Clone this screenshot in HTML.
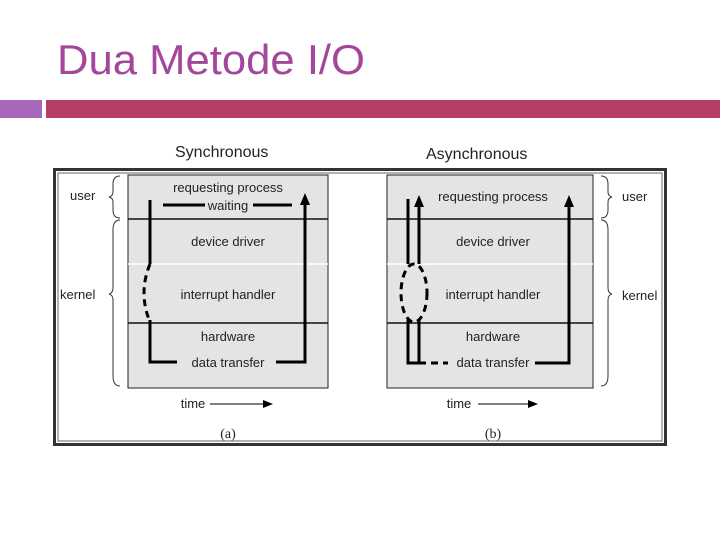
<!DOCTYPE html>
<html><head><meta charset="utf-8"><style>
body{margin:0;width:720px;height:540px;background:#fff;overflow:hidden;font-family:"Liberation Sans",sans-serif}
</style></head><body>
<svg width="720" height="540" viewBox="0 0 720 540" xmlns="http://www.w3.org/2000/svg" font-family="Liberation Sans, sans-serif">
<text x="57" y="74" font-size="42" fill="#a3479c" textLength="308" lengthAdjust="spacingAndGlyphs">Dua Metode I/O</text>
<rect x="0" y="100" width="42" height="18" fill="#a866bb"/>
<rect x="46" y="100" width="674" height="18" fill="#b63d66"/>
<text x="175" y="157" font-size="16" fill="#222">Synchronous</text>
<text x="426" y="159" font-size="16" fill="#222">Asynchronous</text>
<rect x="54.5" y="169.5" width="611" height="275" fill="#fff" stroke="#333" stroke-width="3"/>
<rect x="58" y="173" width="604" height="268" fill="none" stroke="#999" stroke-width="1.5"/>
<!-- left panel -->
<rect x="128" y="175" width="200" height="213" fill="#e4e4e4" stroke="#222" stroke-width="1"/>
<line x1="128" y1="219" x2="328" y2="219" stroke="#111" stroke-width="1.5"/>
<line x1="128" y1="264" x2="328" y2="264" stroke="#fff" stroke-width="1.5"/>
<line x1="128" y1="323" x2="328" y2="323" stroke="#111" stroke-width="1.5"/>
<g font-size="13" fill="#222" text-anchor="middle">
<text x="228" y="192">requesting process</text>
<text x="228" y="210">waiting</text>
<text x="228" y="246">device driver</text>
<text x="228" y="299">interrupt handler</text>
<text x="228" y="341">hardware</text>
<text x="228" y="367">data transfer</text>
<text x="193" y="408">time</text>
<text x="228" y="438" font-family="Liberation Serif, serif" font-size="14">(a)</text>
</g>
<g stroke="#000" stroke-width="3" fill="none">
<line x1="163" y1="205" x2="205" y2="205"/>
<line x1="253" y1="205" x2="292" y2="205"/>
<line x1="150" y1="200" x2="150" y2="264"/>
<path d="M150 264 Q138 293 150 322" stroke-dasharray="7,5"/>
<polyline points="150,320 150,362 177,362"/>
<polyline points="276,362 305,362 305,205"/>
</g>
<polygon points="305,193 300,205 310,205" fill="#000"/>
<line x1="210" y1="404" x2="265" y2="404" stroke="#000" stroke-width="1"/>
<polygon points="273,404 263,400 263,408" fill="#000"/>
<g font-size="13" fill="#222">
<text x="70" y="200">user</text>
<text x="60" y="299">kernel</text>
</g>
<g stroke="#333" stroke-width="1" fill="none">
<path d="M120 176 Q113 176 113 184 L113 192 Q113 196 109 197 Q113 198 113 202 L113 210 Q113 218 120 218"/>
<path d="M120 220 Q113 220 113 230 L113 288 Q113 293 109 294 Q113 295 113 300 L113 376 Q113 386 120 386"/>
<path d="M601 176 Q608 176 608 184 L608 192 Q608 196 612 197 Q608 198 608 202 L608 210 Q608 218 601 218"/>
<path d="M601 220 Q608 220 608 230 L608 288 Q608 293 612 294 Q608 295 608 300 L608 376 Q608 386 601 386"/>
</g>
<!-- right panel -->
<rect x="387" y="175" width="206" height="213" fill="#e4e4e4" stroke="#222" stroke-width="1"/>
<line x1="387" y1="219" x2="593" y2="219" stroke="#111" stroke-width="1.5"/>
<line x1="387" y1="264" x2="593" y2="264" stroke="#fff" stroke-width="1.5"/>
<line x1="387" y1="323" x2="593" y2="323" stroke="#111" stroke-width="1.5"/>
<g font-size="13" fill="#222" text-anchor="middle">
<text x="493" y="201">requesting process</text>
<text x="493" y="246">device driver</text>
<text x="493" y="299">interrupt handler</text>
<text x="493" y="341">hardware</text>
<text x="493" y="367">data transfer</text>
<text x="459" y="408">time</text>
<text x="493" y="438" font-family="Liberation Serif, serif" font-size="14">(b)</text>
</g>
<g stroke="#000" stroke-width="3" fill="none">
<line x1="408" y1="199" x2="408" y2="264"/>
<line x1="419" y1="205" x2="419" y2="264"/>
<ellipse cx="414" cy="293" rx="13" ry="29" stroke-dasharray="7,5"/>
<polyline points="408,320 408,363 419,363"/>
<line x1="419" y1="320" x2="419" y2="363"/>
<line x1="419" y1="363" x2="448" y2="363" stroke-dasharray="7,5"/>
<polyline points="535,363 569,363 569,205"/>
</g>
<polygon points="419,195 414,207 424,207" fill="#000"/>
<polygon points="569,195 564,207 574,207" fill="#000"/>
<line x1="478" y1="404" x2="530" y2="404" stroke="#000" stroke-width="1"/>
<polygon points="538,404 528,400 528,408" fill="#000"/>
<g font-size="13" fill="#222">
<text x="622" y="201">user</text>
<text x="622" y="300">kernel</text>
</g>
</svg>
</body></html>
